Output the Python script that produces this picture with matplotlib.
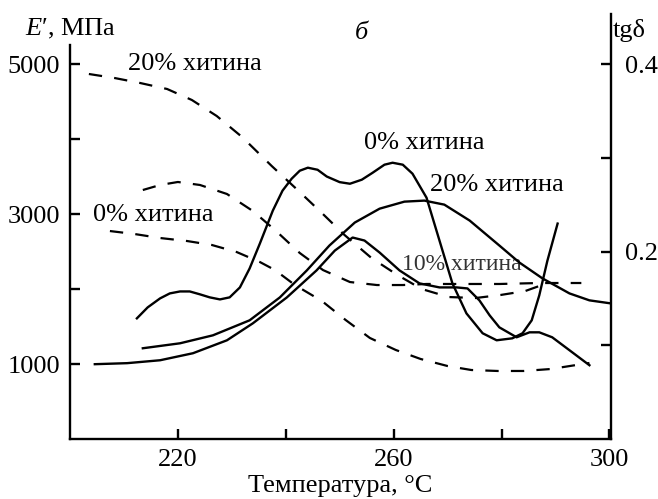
import matplotlib.pyplot as plt

plt.rcParams['font.family'] = ['Liberation Serif', 'DejaVu Serif']
plt.rcParams['mathtext.fontset'] = 'custom'
plt.rcParams['mathtext.rm'] = 'Liberation Serif'
plt.rcParams['mathtext.it'] = 'Liberation Serif:italic'

# E' (MPa), dashed
t_e20 = [203.5, 208.3, 213.0, 218.0, 222.6, 227.2, 231.9, 237.4, 242.2, 246.7, 250.9,
         255.9, 260.7, 265.2, 270.2, 275.2, 279.8, 284.4, 287.0, 288.9]
e20 = [4867, 4813, 4747, 4667, 4520, 4307, 4027, 3640, 3320, 3013, 2720,
       2413, 2187, 2000, 1893, 1880, 1920, 1973, 2040, 2067]

t_e10 = [213.5, 216.7, 220.0, 224.1, 229.1, 233.9, 238.0, 242.6, 246.9, 251.9, 256.9,
         261.7, 266.1, 272.2, 279.6, 287.0, 294.8]
e10 = [3320, 3387, 3427, 3387, 3267, 3040, 2787, 2480, 2253, 2093, 2053,
       2053, 2067, 2067, 2067, 2080, 2080]

t_e0 = [207.4, 212.0, 216.7, 221.7, 226.3, 230.9, 235.2, 238.0, 241.7, 246.7, 251.1,
        255.6, 260.4, 265.0, 270.0, 274.4, 279.3, 284.1, 289.1, 293.9, 296.3]
e0 = [2773, 2733, 2680, 2640, 2587, 2493, 2360, 2253, 2053, 1840, 1587,
      1347, 1187, 1067, 973, 920, 907, 907, 933, 987, 1013]

# tg delta, solid
t_d0 = [212.4, 214.4, 216.7, 218.5, 220.4, 222.2, 224.1, 225.9, 227.8, 229.6, 231.5,
        233.3, 235.2, 237.6, 239.4, 241.1, 242.6, 244.1, 245.9, 247.6, 250.0, 251.9,
        254.1, 256.1, 258.3, 259.8, 261.7, 263.5, 266.1, 268.5, 270.9, 273.5, 276.5,
        279.1, 282.0, 283.9, 285.6, 287.0, 288.5, 290.4]
d0 = [0.1287, 0.1404, 0.1500, 0.1553, 0.1574, 0.1574, 0.1543, 0.1511, 0.1489, 0.1511, 0.1617,
      0.1819, 0.2085, 0.2436, 0.2649, 0.2777, 0.2862, 0.2894, 0.2872, 0.2800, 0.2740, 0.2723,
      0.2766, 0.2840, 0.2926, 0.2947, 0.2926, 0.2830, 0.2574, 0.2117, 0.1660, 0.1340, 0.1128,
      0.1053, 0.1074, 0.1128, 0.1266, 0.1532, 0.1900, 0.2298]

t_d10 = [204.6, 210.6, 216.7, 222.8, 229.1, 233.9, 240.2, 245.7, 249.1, 252.4, 254.6,
         257.4, 261.1, 264.8, 268.5, 271.7, 273.7, 275.9, 277.8, 279.6, 282.8, 285.2,
         287.0, 289.4, 292.6, 296.3]
d10 = [0.0798, 0.0809, 0.0840, 0.0915, 0.1053, 0.1234, 0.1510, 0.1798, 0.2010, 0.2149, 0.2117,
       0.1989, 0.1798, 0.1660, 0.1617, 0.1617, 0.1606, 0.1479, 0.1319, 0.1191, 0.1085, 0.1138,
       0.1138, 0.1085, 0.0947, 0.0787]

t_d20 = [213.5, 220.4, 226.5, 233.3, 238.9, 243.9, 248.1, 252.8, 257.4, 262.0, 265.7,
         269.4, 274.1, 279.6, 283.3, 287.6, 292.6, 296.3, 300.2]
d20 = [0.0968, 0.1021, 0.1106, 0.1266, 0.1510, 0.1798, 0.2064, 0.2309, 0.2457, 0.2532, 0.2543,
       0.2500, 0.2330, 0.2064, 0.1883, 0.1713, 0.1553, 0.1479, 0.1447]

fig = plt.figure(figsize=(6.58, 4.99), dpi=100)
ax = fig.add_axes([70 / 658, 60 / 499, 541 / 658, 425 / 499])
ax2 = ax.twinx()

dash = (0, (6, 5.5))
ax.plot(t_e20, e20, 'k', lw=1.6, linestyle=dash)
ax.plot(t_e10, e10, 'k', lw=1.6, linestyle=dash)
ax.plot(t_e0, e0, 'k', lw=1.6, linestyle=dash)

ax2.plot(t_d0, d0, 'k', lw=1.7)
ax2.plot(t_d10, d10, 'k', lw=1.7)
ax2.plot(t_d20, d20, 'k', lw=1.7)

ax.set_xlim(200, 300.3)
ax.set_ylim(0, 5667)
ax2.set_ylim(0, 5667 / 12500)

for a in (ax, ax2):
    a.spines['top'].set_visible(False)
    for s in a.spines.values():
        s.set_linewidth(1.7)
ax.spines['left'].set_bounds(0, 5253)
ax.spines['right'].set_visible(False)
ax2.spines['left'].set_visible(False)
ax2.spines['bottom'].set_visible(False)

fs = 19
ax.set_xticks([220, 240, 260, 280, 300])
ax.set_xticklabels(['220', '', '260', '', '300'])
ax.set_yticks([1000, 2000, 3000, 4000, 5000])
ax.set_yticklabels(['1000', '', '3000', '', '5000'])
ax2.set_yticks([0.1, 0.2, 0.3, 0.4])
ax2.set_yticklabels(['', '0.2', '', '0.4'])
ax.tick_params(direction='in', length=7, width=1.7, labelsize=fs, pad=7)
ax2.tick_params(direction='in', length=7, width=1.7, labelsize=fs, pad=10)

ax.set_xlabel('Температура, °C', fontsize=fs, labelpad=3)

ax.text(223.1, 5000, '20% хитина', fontsize=fs, ha='center', va='center')
ax.text(215.4, 2987, '0% хитина', fontsize=fs, ha='center', va='center')
ax.text(265.7, 3947, '0% хитина', fontsize=fs, ha='center', va='center')
ax.text(279.1, 3387, '20% хитина', fontsize=fs, ha='center', va='center')
ax.text(272.6, 2333, '10% хитина', fontsize=17, ha='center', va='center', color='#333333')

fig.text(25 / 658, 1 - 35 / 499, "$E$′, МПа", fontsize=fs, ha='left', va='baseline')
fig.text(361 / 658, 1 - 33 / 499, 'б', fontsize=fs, style='italic', ha='center', va='center')
fig.text(613 / 658, 1 - 30 / 499, 'tgδ', fontsize=fs, ha='left', va='center')

fig.savefig('out.png', dpi=100)
